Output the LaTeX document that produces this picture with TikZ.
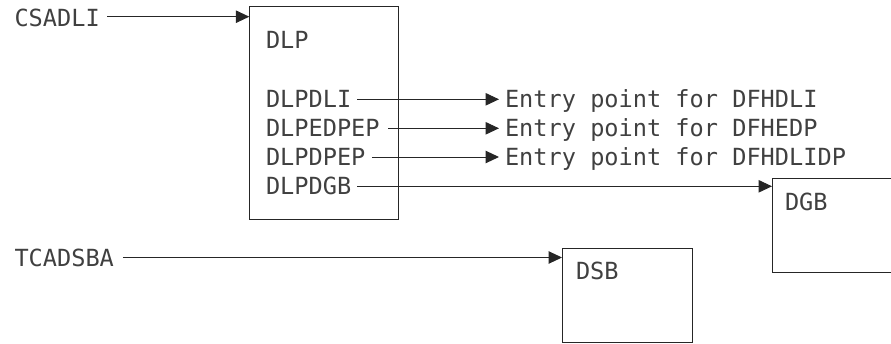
\documentclass[tikz,border=0pt]{standalone}
\usepackage{fontspec}
\usetikzlibrary{arrows.meta}
\newfontfamily\diagmono{DejaVu Sans Mono}
\tikzset{
  lbl/.style={anchor=west, inner sep=0pt, outer sep=0pt, text=black!75,
    font=\diagmono\fontsize{23.6pt}{28pt}\selectfont,
    text height=17.2pt, text depth=0pt},
  box/.style={draw=black!85, line width=1pt, anchor=north west, inner sep=0pt},
  arr/.style={draw=black!85, line width=1pt,
    -{Triangle[length=13.5pt,width=12.5pt]}},
}
\begin{document}
\begin{tikzpicture}[x=1pt,y=-1pt]
  \useasboundingbox (0,0) rectangle (891,343);

  % boxes
  \node[box, minimum width=148.5pt, minimum height=213pt] (dlp) at (249.3,6) {};
  \node[box, minimum width=125pt, minimum height=94.5pt] (dgb) at (772,177.5) {};
  \node[box, minimum width=130pt, minimum height=94pt] (dsb) at (562,248) {};

  % texts
  \node[lbl] (csadli)  at (14.5,18)  {CSADLI};
  \node[lbl] (tcadsba) at (14.5,257.5) {TCADSBA};
  \node[lbl] (dlpname) at (266,40)   {DLP};
  \node[lbl] (dlpdli)  at (266,99.3) {DLPDLI};
  \node[lbl] (dlpedpep) at (266,128.3) {DLPEDPEP};
  \node[lbl] (dlpdpep) at (266,157)  {DLPDPEP};
  \node[lbl] (dlpdgb)  at (266,186.3) {DLPDGB};
  \node[lbl] (e1) at (505,99.3)  {Entry point for DFHDLI};
  \node[lbl] (e2) at (505,128.3) {Entry point for DFHEDP};
  \node[lbl] (e3) at (505,157)   {Entry point for DFHDLIDP};
  \node[lbl] (dgbname) at (785,201.5) {DGB};
  \node[lbl] (dsbname) at (576,270.5) {DSB};

  % connectors
  \draw[arr] ([xshift=7.3pt,yshift=1.3pt]csadli.east) coordinate (cs) -- (cs -| dlp.west);
  \draw[arr] ([xshift=6pt]dlpdli.east) -- ([xshift=-6pt]e1.west);
  \draw[arr] ([xshift=8.7pt]dlpedpep.east) -- ([xshift=-6pt]e2.west);
  \draw[arr] ([xshift=6.3pt]dlpdpep.east) -- ([xshift=-6pt]e3.west);
  \draw[arr] ([xshift=6pt]dlpdgb.east) coordinate (gb) -- (gb -| dgb.west);
  \draw[arr] ([xshift=9pt]tcadsba.east) coordinate (ts) -- (ts -| dsb.west);
\end{tikzpicture}
\end{document}
